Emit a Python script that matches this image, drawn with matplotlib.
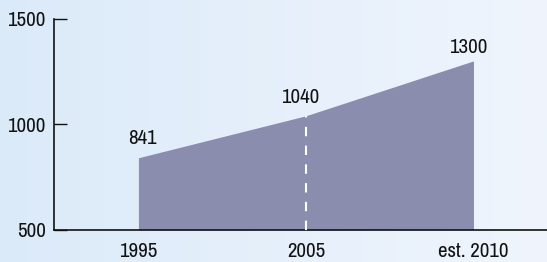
import matplotlib
matplotlib.use('Agg')
import matplotlib.pyplot as plt
import numpy as np
from matplotlib.colors import LinearSegmentedColormap
from matplotlib import font_manager as fm

categories = ['1995', '2005', 'est. 2010']
values = [841, 1040, 1300]
y_ticks = [500, 1000, 1500]

# label offsets in points (layout only)
label_offsets = [(2.9, 13.7), (-4.3, 13.0), (-4.0, 9.4)]

# pick a condensed font if one is installed
entries = fm.fontManager.ttflist
chosen = None
for e in entries:
    if ('Narrow' in e.name or 'Condensed' in e.name) and e.weight in (400, 'normal', 'regular') and e.style == 'normal':
        chosen = (e.name, 'normal')
        break
if chosen is None:
    for e in entries:
        st = e.stretch
        if (st in ('condensed', 'semi-condensed', 'extra-condensed') or
                (isinstance(st, int) and st < 500)) and e.style == 'normal' \
                and e.weight in (400, 'normal', 'regular'):
            chosen = (e.name, st)
            break
if chosen is None:
    chosen = ('DejaVu Sans', 'normal')
plt.rcParams['font.family'] = [chosen[0], 'DejaVu Sans']
plt.rcParams['font.stretch'] = chosen[1]

FS = 15

fig = plt.figure(figsize=(5.47, 2.62), dpi=100)

bg = fig.add_axes([0, 0, 1, 1], zorder=0)
grad = np.linspace(0, 1, 256).reshape(1, -1)
cmap = LinearSegmentedColormap.from_list('bg', ['#dbeaf9', '#f0f5fd'])
bg.imshow(grad, aspect='auto', cmap=cmap, extent=[0, 1, 0, 1])
bg.axis('off')

ax = fig.add_axes([54 / 547, 32.3 / 262, 493 / 547, 211 / 262], zorder=1)
ax.patch.set_alpha(0)

x = np.arange(len(categories))
ax.fill_between(x, y_ticks[0], values, color='#8a8dad', lw=0, zorder=2)
ax.vlines(x[1], y_ticks[0], values[1], colors='white',
          linestyles=(0, (4.5, 4.5)), lw=1.5, zorder=3)

for xi, v, off in zip(x, values, label_offsets):
    ax.annotate(str(v), (xi, v), xytext=off, textcoords='offset points',
                ha='center', va='center', fontsize=FS, color='#111111')

ax.set_xlim(-0.504, 2.439)
ax.set_ylim(500, 1500)
ax.set_yticks(y_ticks)
ax.set_yticklabels([str(t) for t in y_ticks])
ax.set_xticks(x)
ax.set_xticklabels(categories)

for s in ['top', 'right']:
    ax.spines[s].set_visible(False)
for s in ['left', 'bottom']:
    ax.spines[s].set_linewidth(1.2)
    ax.spines[s].set_color('#111111')

ax.tick_params(axis='y', direction='in', length=9.4, width=1.0,
               labelsize=FS, pad=6, colors='#111111')
ax.tick_params(axis='x', length=0, labelsize=FS, pad=9, colors='#111111')

fig.savefig('out.png', dpi=100)
